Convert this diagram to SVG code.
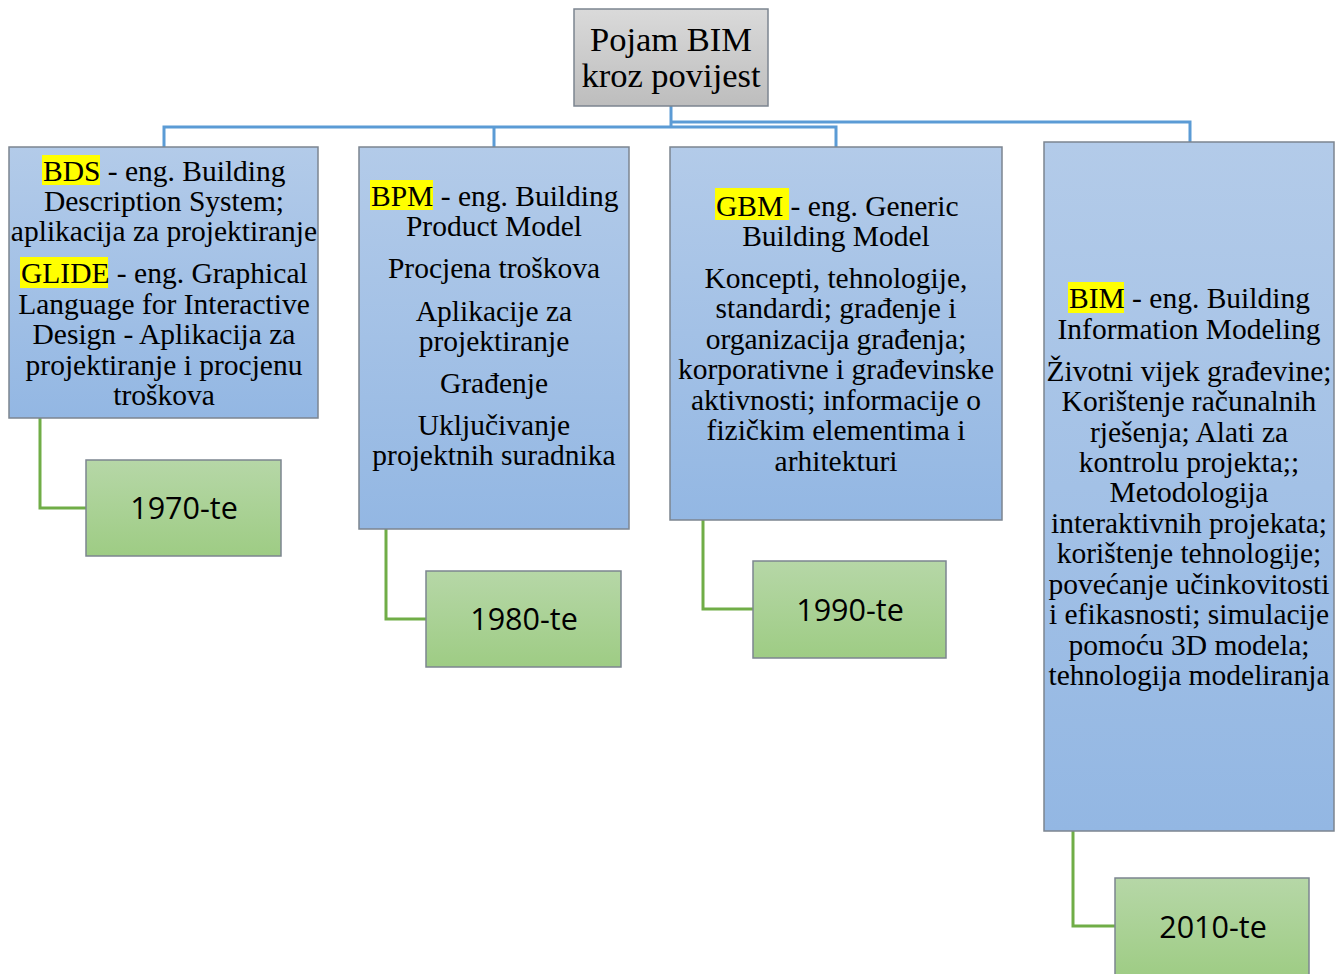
<svg xmlns="http://www.w3.org/2000/svg" width="1339" height="974" viewBox="0 0 1339 974">
<defs>
<linearGradient id="gBlue" x1="0" y1="0" x2="0" y2="1"><stop offset="0" stop-color="#b3cbe9"/><stop offset="1" stop-color="#93b7e3"/></linearGradient>
<linearGradient id="gGreen" x1="0" y1="0" x2="0" y2="1"><stop offset="0" stop-color="#b6d7a7"/><stop offset="1" stop-color="#9ecc84"/></linearGradient>
<linearGradient id="gGray" x1="0" y1="0" x2="0" y2="1"><stop offset="0" stop-color="#dadada"/><stop offset="1" stop-color="#bdbdbd"/></linearGradient>
</defs>
<style>
.box{stroke:#7c8590;stroke-width:1.5}
.blue{fill:url(#gBlue)}
.green{fill:url(#gGreen)}
.gray{fill:url(#gGray)}
.t{font-family:"Liberation Serif","Times New Roman",serif;font-size:29.5px;fill:#000;text-anchor:middle}
.s{text-anchor:start}
.title{font-size:34.5px}
.yr{font-family:"Open Sans","Liberation Sans",Arial,sans-serif;font-size:30.5px;fill:#000;text-anchor:middle}
.hl{fill:#ffff00}
.cb{fill:none;stroke:#5b9bd5;stroke-width:3}
.cg{fill:none;stroke:#70ad47;stroke-width:3}
</style>
<g id="connectors">
<path class="cb" d="M671 106 V127"/>
<path class="cb" d="M164 147 V127 H836 V147"/>
<path class="cb" d="M494 127 V147"/>
<path class="cb" d="M671 122 H1190 V142"/>
<path class="cg" d="M40 418 V508 H86"/>
<path class="cg" d="M386 529 V619 H426"/>
<path class="cg" d="M703 520 V609 H753"/>
<path class="cg" d="M1073 831 V926 H1115"/>
</g>
<g id="root">
<rect class="box gray" x="574" y="9" width="194" height="97"/>
<text class="t title" x="671" y="51">Pojam BIM</text>
<text class="t title" x="671" y="87">kroz povijest</text>
</g>
<g id="bds">
<rect class="box blue" x="9" y="147" width="309" height="271"/>
<rect class="hl" x="42" y="155" width="58" height="30"/>
<rect class="hl" x="20" y="257" width="88" height="31"/>
<text class="t s" x="43" y="181">BDS - eng. Building</text>
<text class="t" x="164" y="211">Description System;</text>
<text class="t" x="164" y="241">aplikacija za projektiranje</text>
<text class="t s" x="21" y="283">GLIDE - eng. Graphical</text>
<text class="t" x="164" y="314">Language for Interactive</text>
<text class="t" x="164" y="344">Design - Aplikacija za</text>
<text class="t" x="164" y="375">projektiranje i procjenu</text>
<text class="t" x="164" y="405">troškova</text>
</g>
<g id="bpm">
<rect class="box blue" x="359" y="147" width="270" height="382"/>
<rect class="hl" x="370" y="180" width="63" height="30"/>
<text class="t s" x="371" y="206">BPM - eng. Building</text>
<text class="t" x="494" y="236">Product Model</text>
<text class="t" x="494" y="278">Procjena troškova</text>
<text class="t" x="494" y="321">Aplikacije za</text>
<text class="t" x="494" y="351">projektiranje</text>
<text class="t" x="494" y="393">Građenje</text>
<text class="t" x="494" y="435">Uključivanje</text>
<text class="t" x="494" y="465">projektnih suradnika</text>
</g>
<g id="gbm">
<rect class="box blue" x="670" y="147" width="332" height="373"/>
<rect class="hl" x="715" y="188" width="74" height="32"/>
<text class="t s" x="716" y="216">GBM - eng. Generic</text>
<text class="t" x="836" y="246">Building Model</text>
<text class="t" x="836" y="288">Koncepti, tehnologije,</text>
<text class="t" x="836" y="318">standardi; građenje i</text>
<text class="t" x="836" y="349">organizacija građenja;</text>
<text class="t" x="836" y="379">korporativne i građevinske</text>
<text class="t" x="836" y="410">aktivnosti; informacije o</text>
<text class="t" x="836" y="440">fizičkim elementima i</text>
<text class="t" x="836" y="471">arhitekturi</text>
</g>
<g id="bim">
<rect class="box blue" x="1044" y="142" width="290" height="689"/>
<rect class="hl" x="1068" y="282" width="56" height="31"/>
<text class="t s" x="1069" y="308">BIM - eng. Building</text>
<text class="t" x="1189" y="339">Information Modeling</text>
<text class="t" x="1189" y="381">Životni vijek građevine;</text>
<text class="t" x="1189" y="411">Korištenje računalnih</text>
<text class="t" x="1189" y="442">rješenja; Alati za</text>
<text class="t" x="1189" y="472">kontrolu projekta;;</text>
<text class="t" x="1189" y="502">Metodologija</text>
<text class="t" x="1189" y="533">interaktivnih projekata;</text>
<text class="t" x="1189" y="563">korištenje tehnologije;</text>
<text class="t" x="1189" y="594">povećanje učinkovitosti</text>
<text class="t" x="1189" y="624">i efikasnosti; simulacije</text>
<text class="t" x="1189" y="655">pomoću 3D modela;</text>
<text class="t" x="1189" y="685">tehnologija modeliranja</text>
</g>
<g id="y1970">
<rect class="box green" x="86" y="460" width="195" height="96"/>
<text class="yr" x="184" y="519">1970-te</text>
</g>
<g id="y1980">
<rect class="box green" x="426" y="571" width="195" height="96"/>
<text class="yr" x="524" y="630">1980-te</text>
</g>
<g id="y1990">
<rect class="box green" x="753" y="561" width="193" height="97"/>
<text class="yr" x="850" y="621">1990-te</text>
</g>
<g id="y2010">
<rect class="box green" x="1115" y="878" width="194" height="100"/>
<text class="yr" x="1213" y="938">2010-te</text>
</g>
</svg>
